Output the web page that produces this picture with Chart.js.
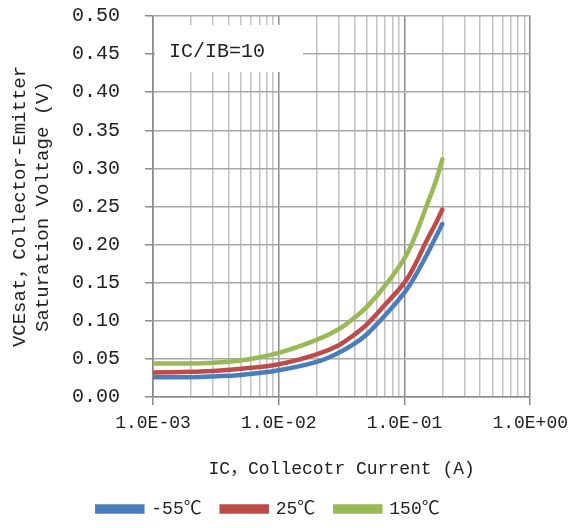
<!DOCTYPE html>
<html lang="en">
<head>
  <meta charset="utf-8">
  <title>VCEsat vs IC</title>
  <style>
    html, body { margin: 0; padding: 0; background: #fff; }
    #wrap { width: 575px; height: 528px; }
  </style>
  <script src="https://cdn.jsdelivr.net/npm/chart.js"></script>
</head>
<body>
  <div id="wrap">
    <canvas id="vceChart" width="575" height="528"></canvas>
  </div>
  <script>
    // collector current (A)
    const currents = [0.001, 0.002, 0.003, 0.005, 0.01, 0.02, 0.03, 0.04, 0.05, 0.07, 0.1, 0.12, 0.15, 0.18, 0.2];
    // VCEsat (V) per temperature
    const vMinus55 = [0.026, 0.026, 0.027, 0.029, 0.035, 0.046, 0.058, 0.070, 0.082, 0.107, 0.137, 0.157, 0.186, 0.212, 0.227];
    const v25 = [0.032, 0.033, 0.034, 0.037, 0.043, 0.056, 0.068, 0.082, 0.095, 0.121, 0.150, 0.172, 0.205, 0.230, 0.246];
    const v150 = [0.044, 0.044, 0.045, 0.048, 0.058, 0.075, 0.089, 0.104, 0.118, 0.146, 0.182, 0.209, 0.251, 0.286, 0.312];

    const seriesNames = ['-55\u2103', '25\u2103', '150\u2103'];
    const decades = [0.001, 0.01, 0.1, 1];
    const xTickLabels = ['1.0E-03', '1.0E-02', '1.0E-01', '1.0E+00'];
    const noteText = 'IC/IB=10';

    const FONT = '"Liberation Mono", "Noto Sans CJK SC", monospace';

    function pts(ys) {
      return currents.map((x, i) => ({ x: x, y: ys[i] }));
    }

    // white box with the IC/IB note, over the grid but under the curves
    const notePlugin = {
      id: 'noteBox',
      beforeDatasetsDraw(chart) {
        const ctx = chart.ctx;
        const a = chart.chartArea;
        ctx.save();
        ctx.fillStyle = '#ffffff';
        ctx.fillRect(a.left + 2, a.top + 9, 148, 47);
        ctx.fillStyle = '#222';
        ctx.font = '20px ' + FONT;
        ctx.textBaseline = 'middle';
        ctx.fillText(noteText, a.left + 16, a.top + 36);
        ctx.restore();
      }
    };

    const ctx = document.getElementById('vceChart').getContext('2d');
    new Chart(ctx, {
      type: 'line',
      data: {
        datasets: [
          { label: seriesNames[0], data: pts(vMinus55), borderColor: '#4A7EBB', backgroundColor: '#4A7EBB' },
          { label: seriesNames[1], data: pts(v25), borderColor: '#BE4B48', backgroundColor: '#BE4B48' },
          { label: seriesNames[2], data: pts(v150), borderColor: '#98B954', backgroundColor: '#98B954' }
        ]
      },
      options: {
        responsive: false,
        animation: false,
        layout: { padding: { top: 0, right: 38, left: 0, bottom: 0 } },
        elements: {
          point: { radius: 0 },
          line: { borderWidth: 4.5, tension: 0.4, borderCapStyle: 'round' }
        },
        plugins: {
          legend: {
            position: 'bottom',
            labels: {
              color: '#222',
              font: { family: FONT, size: 18 },
              boxWidth: 45,
              boxHeight: 5,
              padding: 20
            }
          },
          tooltip: { enabled: false }
        },
        scales: {
          x: {
            type: 'logarithmic',
            min: 0.001,
            max: 1,
            afterBuildTicks(axis) {
              const t = [];
              decades.forEach((d, i) => {
                t.push({ value: d, major: true });
                if (i < decades.length - 1) {
                  for (let m = 2; m <= 9; m++) t.push({ value: d * m, major: false });
                }
              });
              axis.ticks = t;
            },
            afterFit(axis) {
              axis.height = 83;
            },
            ticks: {
              autoSkip: false,
              maxRotation: 0,
              padding: 7,
              color: '#222',
              font: { family: FONT, size: 18 },
              callback(value) {
                const i = decades.findIndex(d => Math.abs(d - value) < d * 1e-6);
                return i >= 0 ? xTickLabels[i] : '';
              }
            },
            grid: {
              color: c => (c.tick && c.tick.major) ? '#8a8a8a' : '#c2c2c2',
              tickColor: c => (c.tick && c.tick.major) ? '#8a8a8a' : 'rgba(0,0,0,0)',
              tickLength: 8,
              lineWidth: 1.5
            },
            border: { color: '#8a8a8a', width: 1.5 },
            title: {
              display: true,
              text: 'IC\uff0cCollecotr Current (A)',
              color: '#222',
              font: { family: FONT, size: 18 },
              padding: { top: 20, bottom: 0 }
            }
          },
          y: {
            min: 0,
            max: 0.5,
            afterFit(axis) {
              axis.width = 153;
              axis.paddingTop = 16;
              axis.paddingBottom = 0;
            },
            ticks: {
              stepSize: 0.05,
              padding: 25,
              color: '#222',
              font: { family: FONT, size: 20 },
              callback: v => v.toFixed(2)
            },
            grid: {
              color: '#a8a8a8',
              tickColor: '#8a8a8a',
              tickLength: 8,
              lineWidth: 1.5
            },
            border: { color: '#8a8a8a', width: 1.5 },
            title: {
              display: true,
              text: ['VCEsat\uff0cCollector-Emitter', 'Saturation Voltage (V)'],
              color: '#222',
              font: { family: FONT, size: 19, lineHeight: 1.2 },
              padding: { top: 9, bottom: 0 }
            }
          }
        }
      },
      plugins: [notePlugin]
    });
  </script>
</body>
</html>
